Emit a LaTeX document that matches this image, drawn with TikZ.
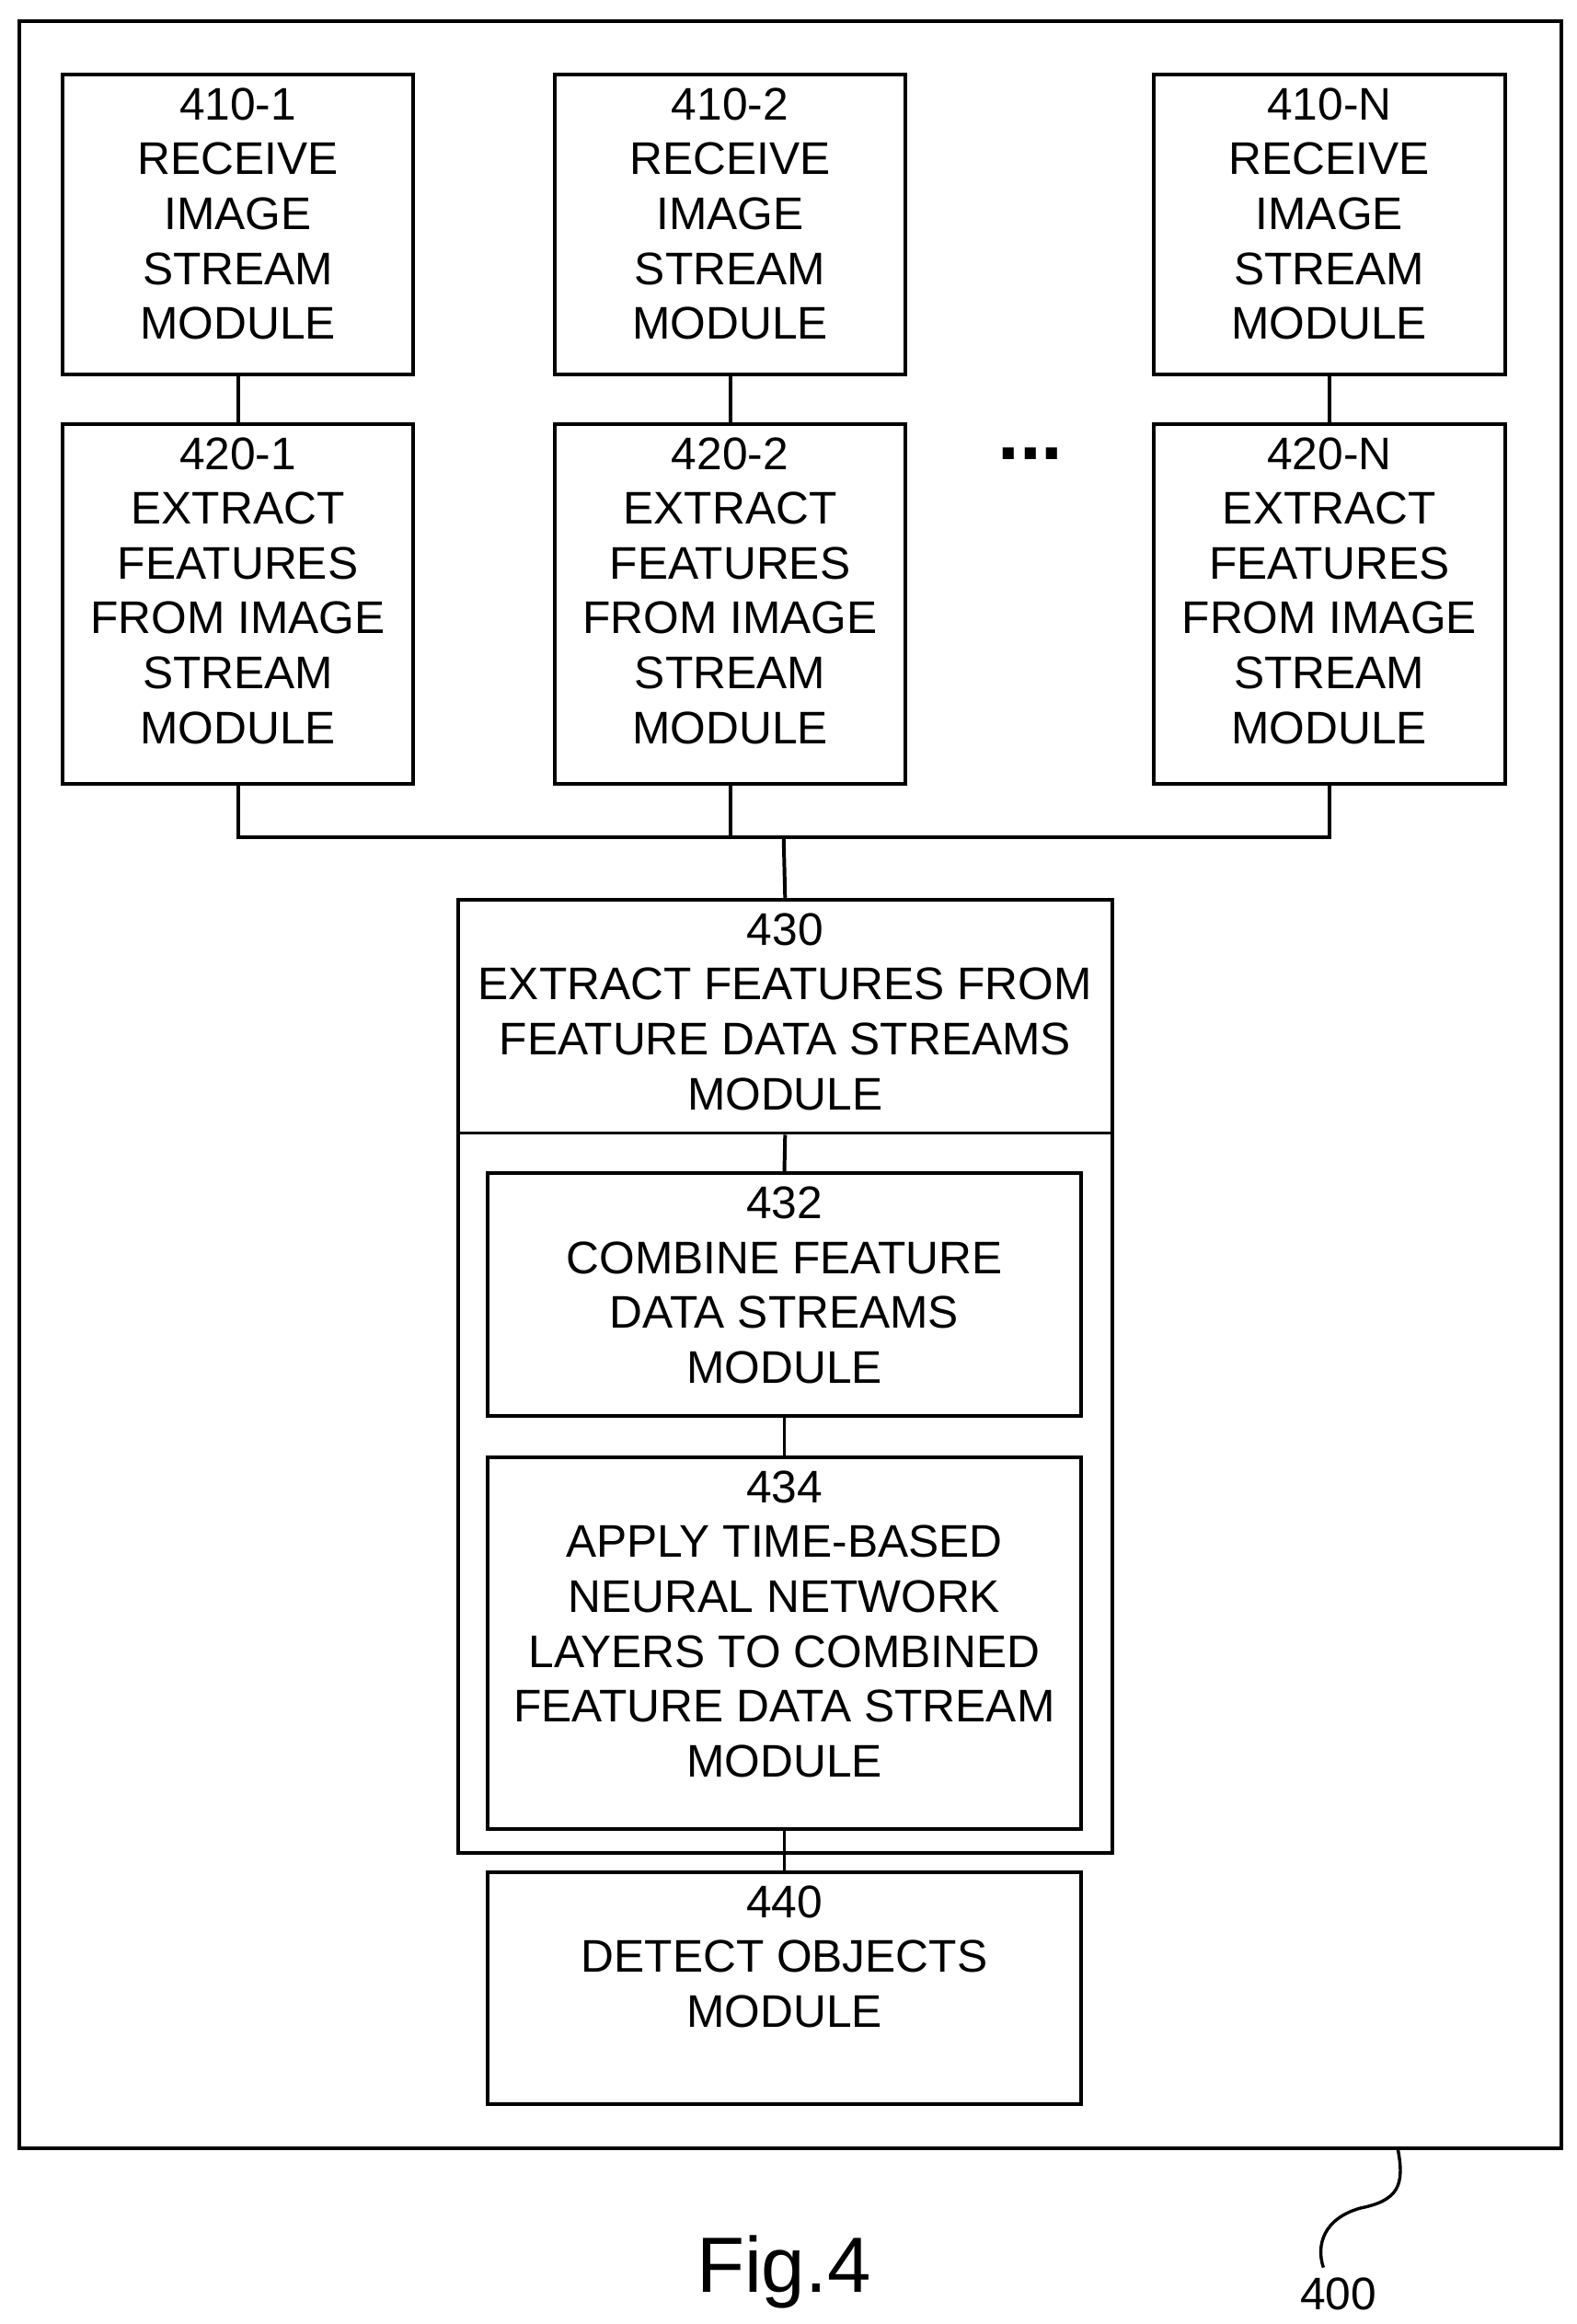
\documentclass[tikz,border=0pt]{standalone}
\usepackage{fontspec}
\setmainfont{Liberation Sans}
\usetikzlibrary{fit}
\begin{document}
\begin{tikzpicture}[x=0.02cm,y=-0.02cm,
  box/.style={draw,line width=1.4pt,inner sep=0pt},
  txt/.style={anchor=north,align=center,inner sep=0pt,font=\fontsize{17.5}{21}\selectfont},
  ln/.style={line width=1.4pt}]
\useasboundingbox (0,0) rectangle (1060,1563);
\node[box,fit={(13,14)(1050,1445)}] (frame) {};
\foreach \n/\x/\lab in {1/42/1,2/373/2,3/776/N}{
  \node[box,fit={(\x,50)(\x+236,252)}] (r\n) {};
  \node[txt] at ([yshift=-0.2cm]r\n.north) {410-\lab\\RECEIVE\\IMAGE\\STREAM\\MODULE};
  \node[box,fit={(\x,285)(\x+236,527)}] (e\n) {};
  \node[txt] at ([yshift=-0.2cm]e\n.north) {420-\lab\\EXTRACT\\FEATURES\\FROM IMAGE\\STREAM\\MODULE};
  \draw[ln] (r\n.south) -- (e\n.north);
}
\node[font=\fontsize{30}{30}\selectfont\bfseries] (dots) at (693,305) {...};
\coordinate (bus) at (527,563);
\node[box,fit={(308,605)(748,1246)}] (outer) {};
\node[box,fit={(308,605)(748,762)}] (c430) {};
\node[txt] at ([yshift=-0.2cm]c430.north) {430\\EXTRACT FEATURES FROM\\FEATURE DATA STREAMS\\MODULE};
\node[box,fit={(328,789)(727,952)}] (c432) {};
\node[txt] at ([yshift=-0.2cm]c432.north) {432\\COMBINE FEATURE\\DATA STREAMS\\MODULE};
\node[box,fit={(328,980)(727,1230)}] (c434) {};
\node[txt] at ([yshift=-0.2cm]c434.north) {434\\APPLY TIME-BASED\\NEURAL NETWORK\\LAYERS TO COMBINED\\FEATURE DATA STREAM\\MODULE};
\node[box,fit={(328,1259)(727,1415)}] (c440) {};
\node[txt] at ([yshift=-0.2cm]c440.north) {440\\DETECT OBJECTS\\MODULE};
\draw[ln] (e1.south) |- (bus);
\draw[ln] (e3.south) |- (bus);
\draw[ln] (e2.south) -- (e2.south |- bus);
\draw[ln] (bus) -- (c430.north);
\draw[ln] (c430.south) -- (c432.north);
\draw[ln] (c432.south) -- (c434.north);
\draw[ln] (c434.south) -- (c440.north);
\node[font=\fontsize{30}{30}\selectfont] (fig) at (527,1528) {Fig.4};
\node[font=\fontsize{17.5}{21}\selectfont] (num) at (900,1543) {400};
\coordinate (sq) at (940,1445);
\draw[line width=1.2pt] (sq) .. controls (945,1470) and (940,1480) .. (915,1485) .. controls (890,1492) and (885,1510) .. (890,1525);
\end{tikzpicture}
\end{document}
